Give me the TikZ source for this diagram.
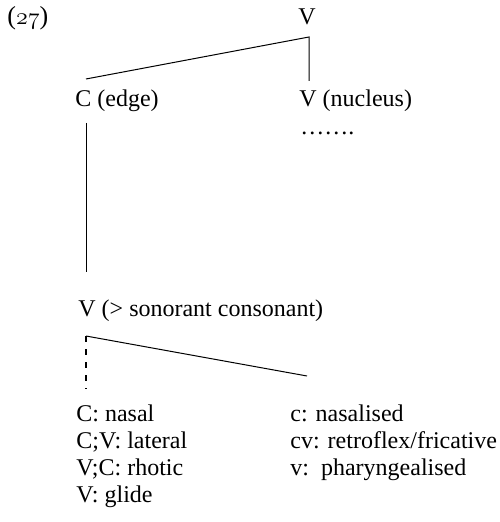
\documentclass[tikz,border=0pt]{standalone}
\usepackage{fontspec}
\setmainfont{Liberation Serif}
\newcommand{\osfnum}[1]{{\usefont{OML}{cmm}{m}{it}#1}}
\begin{document}
\begin{tikzpicture}[x=0.5pt,y=-0.5pt,
  lbl/.style={anchor=base west,inner sep=0pt,font=\fontsize{12}{14}\selectfont},
  branch/.style={line width=0.5pt},
  link/.style={line width=0.55pt,dash pattern=on 3pt off 3.5pt}]
\useasboundingbox (0,0) rectangle (499,522);

% example number
\node[lbl,font=\fontsize{13}{15}\selectfont] (num) at (7,25) {(\osfnum{27})};

% top level
\node[anchor=base,inner sep=0pt,font=\fontsize{12}{14}\selectfont] (top) at (307,25) {V};
\coordinate (topfoot) at (309,37);
\coordinate (edgehead) at (86,79);
\coordinate (nucleushead) at (309,81);
\draw[branch] (edgehead) -- (topfoot) -- (nucleushead);

\node[lbl] (edge) at (75,107) {C (edge)};
\node[lbl] (nucleus) at (299,107) {V (nucleus)};
\node[lbl] (dots) at (300,135) {…….};

% edge down to the sonorant
\coordinate (edgefoot) at (86,123);
\coordinate (sonhead) at (86,272);
\draw[branch] (edgefoot) -- (sonhead);

\node[lbl] (son) at (78,316) {V (> sonorant consonant)};

% split below the sonorant
\coordinate (sonfoot) at (86,336);
\coordinate (rightend) at (307,376);
\coordinate (leftend) at (86,389);
\draw[branch] (sonfoot) -- (rightend);
\draw[link] (sonfoot) -- (leftend);

% left column
\node[lbl] (l1) at (76,421) {C: nasal};
\node[lbl] (l2) at (76,448) {C;V: lateral};
\node[lbl] (l3) at (76,475) {V;C: rhotic};
\node[lbl] (l4) at (76,502) {V: glide};

% right column
\node[lbl] (r1) at (290,421) {c: nasalised};
\node[lbl] (r2) at (290,448) {cv: retroflex/fricative};
\node[lbl] (r3) at (290,475) {v:\ \ pharyngealised};
\end{tikzpicture}
\end{document}
